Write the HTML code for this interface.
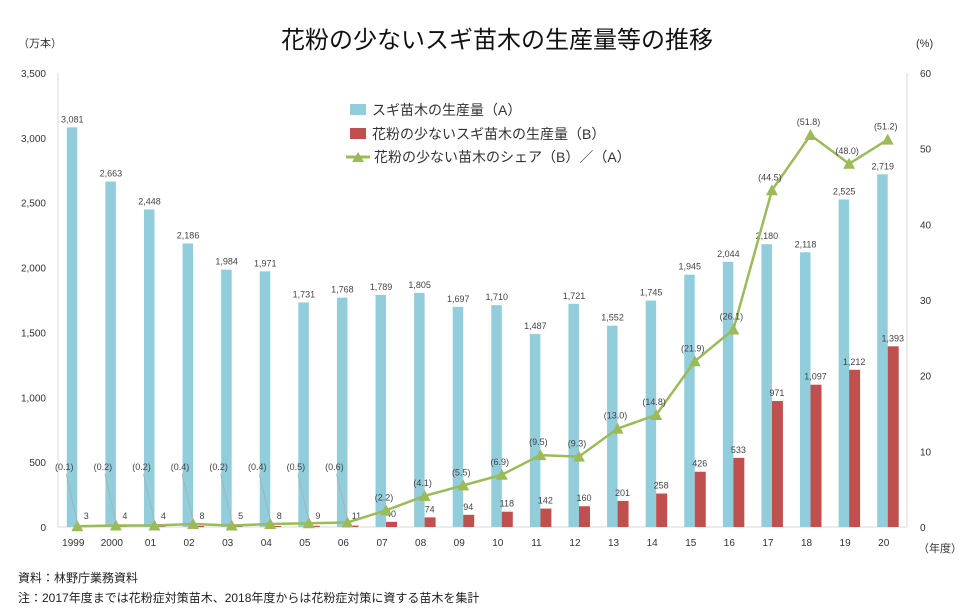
<!DOCTYPE html>
<html><head><meta charset="utf-8"><style>
body{margin:0;background:#fff;}
svg{display:block;font-family:"Liberation Sans","Noto Sans CJK JP",sans-serif;}
</style></head><body>
<svg id="c" width="973" height="614">
<text x="497" y="48" text-anchor="middle" font-size="24" fill="#111">花粉の少ないスギ苗木の生産量等の推移</text>
<text x="18" y="47" font-size="11" fill="#333">（万本）</text>
<text x="916" y="47" font-size="11" fill="#333">(%)</text>
<text x="918" y="552" font-size="11" fill="#333">（年度）</text>
<g>
<rect x="350" y="104" width="16" height="11" fill="#92cddc"/>
<text x="372" y="115" font-size="14" fill="#333">スギ苗木の生産量（A）</text>
<rect x="350" y="128" width="16" height="11" fill="#c0504d"/>
<text x="372" y="139" font-size="14" fill="#333">花粉の少ないスギ苗木の生産量（B）</text>
<line x1="346" y1="157" x2="370" y2="157" stroke="#9bbb59" stroke-width="3"/>
<path d="M352,162 L358,152 L364,162 Z" fill="#9bbb59"/>
<text x="374" y="162" font-size="14" fill="#333">花粉の少ない苗木のシェア（B）／（A）</text>
</g>
<text x="18" y="582" font-size="12" fill="#222">資料：林野庁業務資料</text>
<text x="18" y="602" font-size="12" fill="#222">注：2017年度までは花粉症対策苗木、2018年度からは花粉症対策に資する苗木を集計</text>
</svg>
<script>
const categories=["1999","2000","01","02","03","04","05","06","07","08","09","10","11","12","13","14","15","16","17","18","19","20"];
const seriesA=[3081,2663,2448,2186,1984,1971,1731,1768,1789,1805,1697,1710,1487,1721,1552,1745,1945,2044,2180,2118,2525,2719];
const seriesB=[3,4,4,8,5,8,9,11,40,74,94,118,142,160,201,258,426,533,971,1097,1212,1393];
const share=[0.1,0.2,0.2,0.4,0.2,0.4,0.5,0.6,2.2,4.1,5.5,6.9,9.5,9.3,13.0,14.8,21.9,26.1,44.5,51.8,48.0,51.2];
const leftTicks=[0,500,1000,1500,2000,2500,3000,3500];
const rightTicks=[0,10,20,30,40,50,60];
const svg=document.getElementById('c');const NS='http://www.w3.org/2000/svg';
const X0=58,X1=907,Y0=527,Y1=73;
const band=(X1-X0)/categories.length;
const xc=i=>X0+band*(i+0.5);
const yL=v=>Y0-(v/3500)*(Y0-Y1);
const yR=v=>Y0-(v/60)*(Y0-Y1);
function mk(t,a,p){const e=document.createElementNS(NS,t);for(const k in a)e.setAttribute(k,a[k]);(p||svg).appendChild(e);return e;}
const fmt=v=>v.toLocaleString('en-US');
let ax=mk('line',{x1:X0,y1:Y1,x2:X0,y2:Y0,stroke:'#d9d9d9'});


let ax2=mk('line',{x1:X1,y1:Y1,x2:X1,y2:Y0,stroke:'#d9d9d9'});


let ax3=mk('line',{x1:X0,y1:Y0,x2:X1,y2:Y0,stroke:'#d9d9d9'});


leftTicks.forEach(v=>{const t=mk('text',{x:46,y:yL(v)+4,'text-anchor':'end','font-size':10,fill:'#333'});t.textContent=fmt(v);

});
rightTicks.forEach(v=>{const t=mk('text',{x:920,y:yR(v)+4,'font-size':10,fill:'#333'});t.textContent=v;

});
categories.forEach((c,i)=>{const x=xc(i);
const t=mk('text',{x:x-4,y:546,'text-anchor':'middle','font-size':10,fill:'#333'});t.textContent=c;


const a=mk('rect',{x:x-10.5,y:yL(seriesA[i]),width:10.5,height:Y0-yL(seriesA[i]),fill:'#92cddc'});


const b=mk('rect',{x:x,y:yL(seriesB[i]),width:11,height:Y0-yL(seriesB[i]),fill:'#c0504d'});


const la=mk('text',{x:x-5,y:yL(seriesA[i])-5,'text-anchor':'middle','font-size':9,fill:'#444'});la.textContent=fmt(seriesA[i]);


const small=seriesB[i]<30;
const lb=mk('text',{x:small?x+9:x+5,y:small?Y0-8:yL(seriesB[i])-5,'text-anchor':'middle','font-size':9,fill:'#444'});lb.textContent=fmt(seriesB[i]);


});
const pts=share.map((v,i)=>xc(i)+','+yR(v)).join(' ');
const line=mk('polyline',{points:pts,fill:'none',stroke:'#9bbb59','stroke-width':2.5});


share.forEach((v,i)=>{const x=xc(i),y=yR(v);
const m=mk('path',{d:`M${x-6},${y+5} L${x},${y-6} L${x+6},${y+5} Z`,fill:'#9bbb59'});


const low=i<8;
const lx=low?x-13:x-2,ly=low?470:y-10;
if(low){const l=mk('line',{x1:lx+2,y1:ly+4,x2:x,y2:y-4,stroke:'#aaa','stroke-width':0.7});

}
const t=mk('text',{x:lx,y:ly,'text-anchor':'middle','font-size':9,fill:'#444'});t.textContent='('+v.toFixed(1)+')';


});
</script>
</body></html>
